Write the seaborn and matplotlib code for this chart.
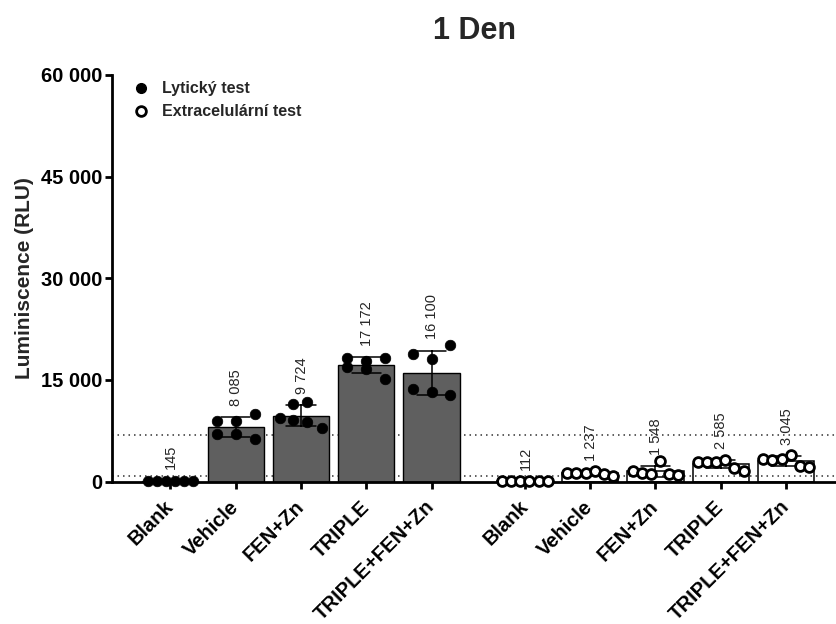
import numpy as np
import pandas as pd
import matplotlib
matplotlib.use("Agg")
import matplotlib.pyplot as plt
import seaborn as sns
from matplotlib.lines import Line2D

sns.set_style("ticks")
plt.rcParams.update({
    "font.family": ["Liberation Sans", "DejaVu Sans"],
    "axes.edgecolor": "black",
    "xtick.color": "black",
    "ytick.color": "black",
})

# =====================================================
# DATA
# =====================================================
groups = ["Blank", "Vehicle", "FEN+Zn", "TRIPLE", "TRIPLE+FEN+Zn"]
assays = ["Lytický test", "Extracelulární test"]

lyt_blank = [120, 160, 140, 150, 130, 170]
lyt_vehicle = [9000, 9000, 10050, 7050, 7050, 6360]
lyt_fen_zn = [9320, 11420, 11820, 9070, 8730, 7984]
lyt_triple = [18270, 17780, 18270, 16950, 16660, 15102]
lyt_triple_fen_zn = [18777, 18037, 20137, 13737, 13157, 12755]

ext_blank = [100, 120, 110, 115, 105, 122]
ext_vehicle = [1325, 1235, 1325, 1575, 1125, 837]
ext_fen_zn = [1640, 1260, 1150, 3110, 1110, 1018]
ext_triple = [2900, 2900, 2900, 3150, 2080, 1580]
ext_triple_fen_zn = [3360, 3210, 3280, 3940, 2330, 2150]

thresholds = [6890, 840]
y_ticks = [0, 15000, 30000, 45000, 60000]

# =====================================================
# LAYOUT
# =====================================================
GAP = 0.43
row3 = [-0.29, 0.0, 0.29, -0.29, 0.0, 0.29]
spread = list(np.linspace(-0.35, 0.35, 6))
fen_row = [-0.32, -0.12, 0.10, -0.12, 0.10, 0.32]
offsets = [
    [spread, row3, fen_row, row3, row3],
    [spread, spread, spread, spread, spread],
]
series = [
    [lyt_blank, lyt_vehicle, lyt_fen_zn, lyt_triple, lyt_triple_fen_zn],
    [ext_blank, ext_vehicle, ext_fen_zn, ext_triple, ext_triple_fen_zn],
]

rows = []
for a, assay in enumerate(assays):
    for g, vals in enumerate(series[a]):
        pos = g + a * (len(groups) + GAP)
        for v, off in zip(vals, offsets[a][g]):
            rows.append(dict(assay=assay, group=groups[g], pos=pos,
                             x=pos + off, value=v))
df = pd.DataFrame(rows)
lyt = df[df.assay == assays[0]]
ext = df[df.assay == assays[1]]

def fmt(v):
    return f"{v:,.0f}".replace(",", " ")

# =====================================================
# FIGURE
# =====================================================
fig = plt.figure(figsize=(8.37, 6.24), dpi=100)
ax = fig.add_axes([0.1338, 0.2281, 0.8662, 0.6518])

for t in thresholds:
    ax.axhline(t, color="#333333", lw=1.1, ls=(0, (1, 2.6)), zorder=0.5)

err_kws = dict(color="black", linewidth=1.1)
sns.barplot(data=lyt, x="pos", y="value", native_scale=True, errorbar="sd",
            color="#5f5f5f", saturation=1, width=0.86, edgecolor="black",
            linewidth=1.0, capsize=0.45, err_kws=err_kws, ax=ax)
sns.barplot(data=ext, x="pos", y="value", native_scale=True, errorbar="sd",
            color="black", saturation=1, fill=False, width=0.86,
            linewidth=1.1, capsize=0.45, err_kws=err_kws, ax=ax)

sns.scatterplot(data=lyt, x="x", y="value", color="black", edgecolor="black",
                s=58, linewidth=0.5, zorder=4, clip_on=False, legend=False, ax=ax)
sns.scatterplot(data=ext, x="x", y="value", color="white", edgecolor="black",
                s=50, linewidth=2.0, zorder=4, clip_on=False, legend=False, ax=ax)

# mean labels above the error bars
stats = df.groupby(["assay", "pos"], sort=False)["value"].agg(["mean", "std"])
for (assay, pos), r in stats.iterrows():
    ax.annotate(fmt(r["mean"]), (pos, r["mean"] + r["std"]),
                xytext=(0.5, 8), textcoords="offset points",
                rotation=90, ha="center", va="bottom", fontsize=10.5,
                zorder=5)

positions = sorted(df.pos.unique())
ax.set_xticks(positions)
ax.set_xticklabels(groups * 2, rotation=45, ha="right", va="center",
                   rotation_mode="anchor", fontsize=14.5, fontweight="bold")
ax.set_xlim(-0.894, 10.21)

ax.set_ylim(0, 60000)
ax.set_yticks(y_ticks)
ax.set_yticklabels([fmt(v) for v in y_ticks], fontsize=14.5, fontweight="bold")

ax.set_xlabel("")
ax.set_ylabel("Luminiscence (RLU)", fontsize=15, fontweight="bold", labelpad=5)
ax.set_title("1 Den", fontsize=22, fontweight="bold", pad=26)

sns.despine(ax=ax)
for side in ["left", "bottom"]:
    ax.spines[side].set_linewidth(2)
ax.tick_params(axis="y", width=2, length=5, pad=2)
ax.tick_params(axis="x", width=2, length=5, pad=11)

handles = [
    Line2D([], [], marker="o", ls="", color="black", markersize=7),
    Line2D([], [], marker="o", ls="", markerfacecolor="white",
           markeredgecolor="black", markeredgewidth=2, markersize=7),
]
ax.legend(handles, assays, loc="upper left", bbox_to_anchor=(0.02, 1.0),
          frameon=False, borderaxespad=0, handlelength=1, handletextpad=0.8,
          prop=dict(size=11.5, weight="bold"))

fig.savefig("out.png", dpi=100)
